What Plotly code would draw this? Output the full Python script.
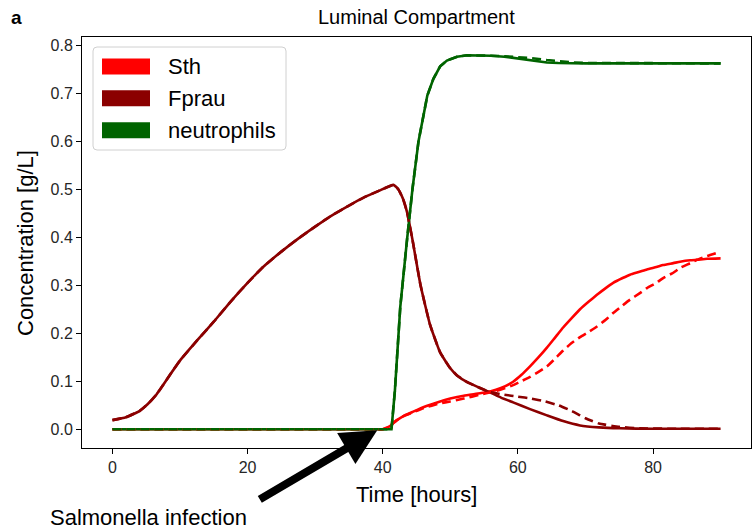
import plotly.graph_objects as go

# Simulated luminal concentrations [g/L] over time [hours]
# Solid lines: reference run; dashed lines: alternative run

t_fprau = [0, 2, 4, 5.2, 6.5, 7.5, 8.5, 10, 12.6, 15, 17.5, 20, 22.3, 25, 27.3, 30,
           32.2, 35, 37.1, 39.5, 41.6, 42.3, 43, 43.6, 44.4, 45.6, 47, 48.5, 50, 51,
           52.5, 54.4, 56, 57.5, 59.3, 61.8, 64.3, 66.7, 69.2, 72, 75, 80, 85, 90]
fprau = [0.019, 0.025, 0.038, 0.052, 0.072, 0.092, 0.113, 0.143, 0.186, 0.224, 0.266,
         0.305, 0.338, 0.370, 0.395, 0.422, 0.443, 0.466, 0.482, 0.497, 0.509, 0.500,
         0.480, 0.452, 0.395, 0.300, 0.218, 0.160, 0.127, 0.112, 0.098, 0.086, 0.076,
         0.066, 0.056, 0.042, 0.029, 0.017, 0.008, 0.004, 0.002, 0.001, 0.001, 0.001]

t_fprau_alt = [0, 2, 4, 5.2, 6.5, 7.5, 8.5, 10, 12.6, 15, 17.5, 20, 22.3, 25, 27.3, 30,
               32.2, 35, 37.1, 39.5, 41.6, 42.3, 43, 43.6, 44.4, 45.6, 47, 48.5, 50, 51,
               52.5, 54.4, 56, 58, 60, 62, 64, 66, 68, 70, 72, 75, 78, 84, 90]
fprau_alt = [0.019, 0.025, 0.038, 0.052, 0.072, 0.092, 0.113, 0.143, 0.186, 0.224, 0.266,
             0.305, 0.338, 0.370, 0.395, 0.422, 0.443, 0.466, 0.482, 0.497, 0.509, 0.500,
             0.480, 0.452, 0.395, 0.300, 0.218, 0.160, 0.127, 0.112, 0.098, 0.086, 0.077,
             0.072, 0.068, 0.064, 0.058, 0.050, 0.038, 0.023, 0.012, 0.005, 0.002, 0.001,
             0.001]

t_sth = [0, 10, 20, 30, 36, 38, 39, 40, 41, 42, 43, 44.4, 46, 48.5, 50, 52, 54.4, 56,
         57.5, 59.3, 60.5, 61.8, 63, 64.3, 65.5, 66.7, 68, 69.2, 70.5, 71.7, 73, 74.1,
         75.5, 76.6, 78, 79.1, 80.5, 81.5, 83, 84, 85.5, 86.5, 88, 90]
sth = [0.0, 0.0, 0.0, 0.0, 0.0, 0.0, 0.0, 0.0, 0.006, 0.018, 0.027, 0.036, 0.046, 0.058,
       0.064, 0.070, 0.075, 0.079, 0.086, 0.099, 0.113, 0.131, 0.149, 0.170, 0.191,
       0.212, 0.232, 0.250, 0.266, 0.280, 0.294, 0.305, 0.315, 0.322, 0.328, 0.333,
       0.338, 0.342, 0.346, 0.349, 0.352, 0.353, 0.355, 0.356]
sth_alt = [0.0, 0.0, 0.0, 0.0, 0.0, 0.0, 0.0, 0.0, 0.006, 0.018, 0.027, 0.035, 0.044,
           0.054, 0.058, 0.064, 0.072, 0.077, 0.083, 0.092, 0.100, 0.109, 0.119, 0.131,
           0.147, 0.164, 0.180, 0.192, 0.203, 0.214, 0.228, 0.242, 0.258, 0.270, 0.283,
           0.294, 0.305, 0.315, 0.326, 0.336, 0.346, 0.353, 0.361, 0.370]

t_neut = [0, 41.3, 41.8, 42.6, 43.6, 44.4, 45.3, 46.0, 46.6, 47.5, 48.5, 49.5, 51,
          52.5, 54.4, 56, 58, 60.4, 62, 64.3, 66, 68, 70, 80, 90]
neut = [0.0, 0.0, 0.08, 0.255, 0.395, 0.500, 0.600, 0.655, 0.695, 0.730, 0.756, 0.768,
        0.776, 0.779, 0.779, 0.778, 0.776, 0.772, 0.768, 0.764, 0.763, 0.762, 0.762,
        0.762, 0.762]
neut_alt = [0.0, 0.0, 0.08, 0.255, 0.395, 0.500, 0.600, 0.655, 0.695, 0.730, 0.756,
            0.768, 0.776, 0.779, 0.779, 0.778, 0.777, 0.775, 0.773, 0.769, 0.766, 0.764,
            0.763, 0.762, 0.762]

legend_names = ["Sth", "Fprau", "neutrophils"]
c_sth, c_fprau, c_neut = "#ff0000", "#8b0000", "#006400"
legend_colors = [c_sth, c_fprau, c_neut]

FONT = "Liberation Sans, Arial, sans-serif"
LW = 2.6
DASH = "9px,5px"

fig = go.Figure()
for x, y, c, d, shape in [
    (t_sth, sth, c_sth, "solid", "spline"),
    (t_fprau, fprau, c_fprau, "solid", "spline"),
    (t_neut, neut, c_neut, "solid", "linear"),
    (t_sth, sth_alt, c_sth, DASH, "spline"),
    (t_fprau_alt, fprau_alt, c_fprau, DASH, "spline"),
    (t_neut, neut_alt, c_neut, DASH, "linear"),
]:
    line = dict(color=c, width=LW, dash=d, shape=shape)
    if shape == "spline":
        line["smoothing"] = 0.4
    fig.add_trace(go.Scatter(x=x, y=y, mode="lines", showlegend=False, line=line))

axis_common = dict(showline=True, linecolor="black", linewidth=1, mirror=True,
                   ticks="outside", ticklen=5, tickwidth=1, tickcolor="black",
                   showgrid=False, zeroline=False,
                   tickfont=dict(family=FONT, size=16, color="#262626"))
fig.update_xaxes(range=[-4.5, 94.5], tickvals=[0, 20, 40, 60, 80], **axis_common)
fig.update_yaxes(range=[-0.039, 0.817], tickvals=[0, 0.1, 0.2, 0.3, 0.4, 0.5, 0.6, 0.7, 0.8],
                 tickformat=".1f", **axis_common)

W, H = 669.0, 411.0
def px(xp):
    return (xp - 82) / W
def py(yp):
    return (448 - yp) / H

def label(text, x, y, size, **kw):
    return dict(text=text, x=px(x), y=py(y), xref="paper", yref="paper",
                xanchor=kw.pop("xanchor", "center"), yanchor="middle", showarrow=False,
                font=dict(family=FONT, size=size, color="black"), **kw)

annotations = [
    label("Luminal Compartment", 416, 17, 20),
    label("<b>a</b>", 16, 17, 19),
    label("Time [hours]", 416, 494, 22),
    label("Concentration [g/L]", 25, 243, 22, textangle=-90),
    label("Salmonella infection", 148, 517, 22),
    dict(text="", x=39.2, y=-0.002, xref="x", yref="y", ax=-119, ay=70,
         showarrow=True, arrowhead=2, arrowsize=0.9, arrowwidth=8, arrowcolor="black",
         standoff=0, startstandoff=0),
]

# Legend drawn with patches and labels in paper coordinates
shapes = []
r = 4
x0, x1, y0, y1 = 93, 286, 47, 150
path = (f"M {px(x0 + r)},{py(y0)} L {px(x1 - r)},{py(y0)} Q {px(x1)},{py(y0)} {px(x1)},{py(y0 + r)} "
        f"L {px(x1)},{py(y1 - r)} Q {px(x1)},{py(y1)} {px(x1 - r)},{py(y1)} "
        f"L {px(x0 + r)},{py(y1)} Q {px(x0)},{py(y1)} {px(x0)},{py(y1 - r)} "
        f"L {px(x0)},{py(y0 + r)} Q {px(x0)},{py(y0)} {px(x0 + r)},{py(y0)} Z")
shapes.append(dict(type="path", path=path, xref="paper", yref="paper",
                   line=dict(color="#d0d0d0", width=1), fillcolor="rgba(255,255,255,0.8)"))
row_centers = [66.5, 98.3, 130.3]
for name, col, yc in zip(legend_names, legend_colors, row_centers):
    shapes.append(dict(type="rect", xref="paper", yref="paper",
                       x0=px(102), x1=px(150), y0=py(yc - 8), y1=py(yc + 8),
                       fillcolor=col, line=dict(width=0)))
    annotations.append(label(name, 166, yc, 22, xanchor="left"))

fig.update_layout(
    width=752, height=529,
    margin=dict(l=82, r=1, t=37, b=81),
    plot_bgcolor="white", paper_bgcolor="white",
    showlegend=False,
    annotations=annotations, shapes=shapes,
)

fig.write_html("out.html")
